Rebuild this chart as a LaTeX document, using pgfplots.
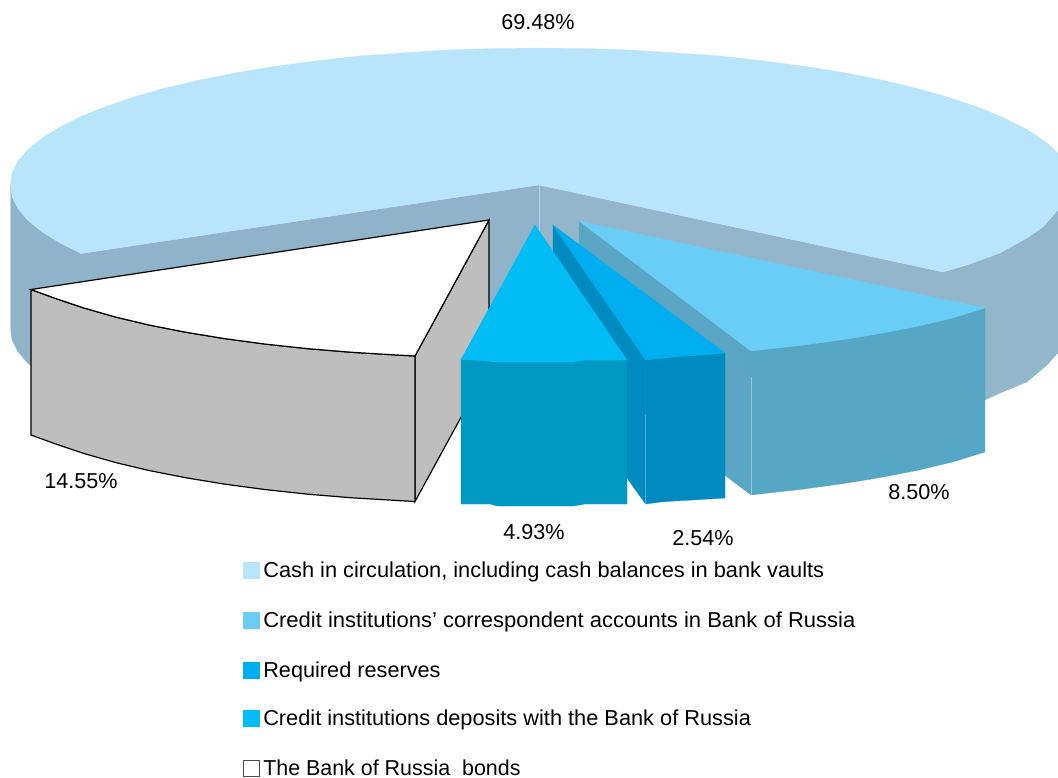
\documentclass[border=0pt]{standalone}
\usepackage{fontspec}
\setmainfont{Liberation Sans}
\usepackage{pgfplots}
\pgfplotsset{compat=1.18}
\definecolor{cTop}{HTML}{B8E5FA}
\definecolor{cWall}{HTML}{93B6CA}
\definecolor{cWallL}{HTML}{8FB4C9}
\definecolor{cLight}{HTML}{69CDF6}
\definecolor{cLightF}{HTML}{56A6C6}
\definecolor{cLightS}{HTML}{5AA6C4}
\definecolor{cBlue}{HTML}{00AEEF}
\definecolor{cBlueF}{HTML}{008BC0}
\definecolor{cTeal}{HTML}{00BDF6}
\definecolor{cTealF}{HTML}{0099C3}
\definecolor{cGrey}{HTML}{BEBEBE}
\newcommand{\lab}{\fontsize{16.2}{18}\selectfont}
\begin{document}
\begin{tikzpicture}
\begin{axis}[
  width=793.5pt, height=583.5pt, scale only axis,
  xmin=0, xmax=1058, ymin=0, ymax=778, y dir=reverse,
  hide axis,
]
% invisible frame: keeps the page as large as the axis
\addplot[draw=none] coordinates {(0,0)(1058,0)(1058,778)(0,778)} -- cycle;
% big slice: inner walls
\addplot[fill=cWallL, draw=cWallL, line width=0.2pt] coordinates {(539,185)(81,253.5)(81,396.5)(539,328)} -- cycle;
\addplot[fill=cWall, draw=cWall, line width=0.2pt] coordinates {(539,185)(943,272)(943,415)(539,328)} -- cycle;
% big slice: outer walls
\addplot[fill=cWallL, draw=cWallL, line width=0.2pt] coordinates {(81,253.5)(60,242.9)(42,231.9)(28,220.5)(18,208.8)(12,196.9)(10.5,185)(10.5,328)(12,339.9)(18,351.8)(28,363.5)(42,374.9)(60,385.9)(81,396.5)} -- cycle;
\addplot[fill=cWall, draw=cWall, line width=0.2pt] coordinates {(943,272)(967,265)(1000,253)(1027,238)(1043,227)(1057.8,210)(1057.8,353)(1047,365)(1027,382)(1000,393)(985,400)(943,415)} -- cycle;
% big slice: top
\addplot[fill=cTop, draw=cTop, line width=0.2pt] coordinates {(539,185)(81,253.5)(60,242.9)(42,231.9)(28,220.5)(18,208.8)(12,196.9)(10.5,185)(12,173.1)(18,161.2)(28,149.5)(42,138.1)(60,127.1)(81,116.5)(106,106.4)(134,96.9)(165,88.1)(199,80.1)(236,72.8)(274.5,66.4)(315,61)(358,56)(402,53)(447,50)(493,48.5)(539,48)(585,48.5)(631.5,50)(677,53)(721,56)(764,61)(805.5,66.4)(845,72.8)(882,80.1)(916,88.1)(947,96.9)(976,106.4)(1001,116.5)(1028,130)(1047,143)(1057.8,153)(1057.8,210)(1043,227)(1027,238)(1000,253)(967,265)(943,272)} -- cycle;
\addplot[draw=cTop!60!cWall, line width=0.4pt] coordinates {(539,185)(539,235)};
% white slice
\addplot[fill=cGrey, draw=black, line width=0.9pt] coordinates {(489,220)(489,366)(415,501.5)(415,356)} -- cycle;
\addplot[fill=cGrey, draw=black, line width=0.9pt] coordinates {(31,289.5)(56,298.6)(84,308)(115,316.9)(149,325)(185.6,332.2)(224.5,338.6)(265.4,344.1)(308,348.7)(352,352.3)(397,355)(415,356)(415,501.5)(397,500.5)(352,497.8)(308,494.2)(265.4,489.6)(224.5,484.1)(185.6,477.7)(149,470.5)(115,462.4)(84,453.5)(56,444.1)(31,435)} -- cycle;
\addplot[fill=white, draw=black, line width=0.9pt] coordinates {(489,220)(31,289.5)(56,298.6)(84,308)(115,316.9)(149,325)(185.6,332.2)(224.5,338.6)(265.4,344.1)(308,348.7)(352,352.3)(397,355)(415,356)} -- cycle;
% light blue slice
\addplot[fill=cLightS, draw=cLightS, line width=0.2pt] coordinates {(579,221)(751,351)(751,495)(579,365)} -- cycle;
\addplot[fill=cLightF, draw=cLightF, line width=0.2pt] coordinates {(751,351)(802.6,345.2)(843.5,339.6)(882.4,333.2)(919,326)(953,317.9)(985,308)(985,452)(953,461.9)(919,470)(882.4,477.2)(843.5,483.6)(802.6,489.2)(751,495)} -- cycle;
\addplot[fill=cLight, draw=cLight, line width=0.2pt] coordinates {(579,221)(751,351)(802.6,345.2)(843.5,339.6)(882.4,333.2)(919,326)(953,317.9)(985,308)} -- cycle;
\addplot[draw=cLightF!60!white, line width=0.4pt] coordinates {(751,377)(751,495)};
% blue slice
\addplot[fill=cBlueF, draw=cBlueF, line width=0.2pt] coordinates {(553,225)(645.5,360)(645.5,504)(627,478)(553,370)} -- cycle;
\addplot[fill=cBlueF, draw=cBlueF, line width=0.2pt] coordinates {(645.5,360)(665,358)(685,356)(705,355)(725,353)(725,498)(693,500)(663,501.7)(645.5,504)} -- cycle;
\addplot[fill=cBlue, draw=cBlue, line width=0.2pt] coordinates {(553,225)(645.5,360)(665,358)(685,356)(705,355)(725,353)} -- cycle;
\addplot[draw=cBlueF!70!white, line width=0.4pt] coordinates {(645.5,415)(645.5,504)};
% teal slice
\addplot[fill=cTealF, draw=cTealF, line width=0.2pt] coordinates {(461,359.5)(470,359.5)(497,362)(573,362)(585,360)(627,360)(627,504)(585,504)(573,506)(497,506)(490,504)(461,504)} -- cycle;
\addplot[fill=cTeal, draw=cTeal, line width=0.2pt] coordinates {(535,225)(461,359.5)(470,359.5)(497,362)(573,362)(585,360)(627,360)} -- cycle;
% legend swatches
\addplot[fill=cTop, draw=none] coordinates {(243,562)(260,562)(260,579)(243,579)} -- cycle;
\addplot[fill=cLight, draw=none] coordinates {(243,612)(260,612)(260,629)(243,629)} -- cycle;
\addplot[fill=cBlue, draw=none] coordinates {(243,662)(260,662)(260,679)(243,679)} -- cycle;
\addplot[fill=cTeal, draw=none] coordinates {(243,710)(260,710)(260,727)(243,727)} -- cycle;
\addplot[fill=white, draw=black!70, line width=0.7pt] coordinates {(243.5,760.5)(259.5,760.5)(259.5,776.5)(243.5,776.5)} -- cycle;
% data labels
\node[anchor=base, font=\lab, inner sep=0pt] at (axis cs:538,29) {69.48\%};
\node[anchor=base, font=\lab, inner sep=0pt] at (axis cs:81,488) {14.55\%};
\node[anchor=base, font=\lab, inner sep=0pt] at (axis cs:534,539) {4.93\%};
\node[anchor=base, font=\lab, inner sep=0pt] at (axis cs:703,545) {2.54\%};
\node[anchor=base, font=\lab, inner sep=0pt] at (axis cs:919,499) {8.50\%};
% legend labels
\node[anchor=base west, font=\lab, inner sep=0pt, xscale=1.009] at (axis cs:263,577) {Cash in circulation, including cash balances in bank vaults};
\node[anchor=base west, font=\lab, inner sep=0pt, xscale=1.019] at (axis cs:263,627) {Credit institutions’ correspondent accounts in Bank of Russia};
\node[anchor=base west, font=\lab, inner sep=0pt, xscale=1.005] at (axis cs:263,677) {Required reserves};
\node[anchor=base west, font=\lab, inner sep=0pt, xscale=1.008] at (axis cs:263,725) {Credit institutions deposits with the Bank of Russia};
\node[anchor=base west, font=\lab, inner sep=0pt, xscale=0.992] at (axis cs:263,775) {The Bank of Russia\ \ bonds};
\end{axis}
\end{tikzpicture}
\end{document}
